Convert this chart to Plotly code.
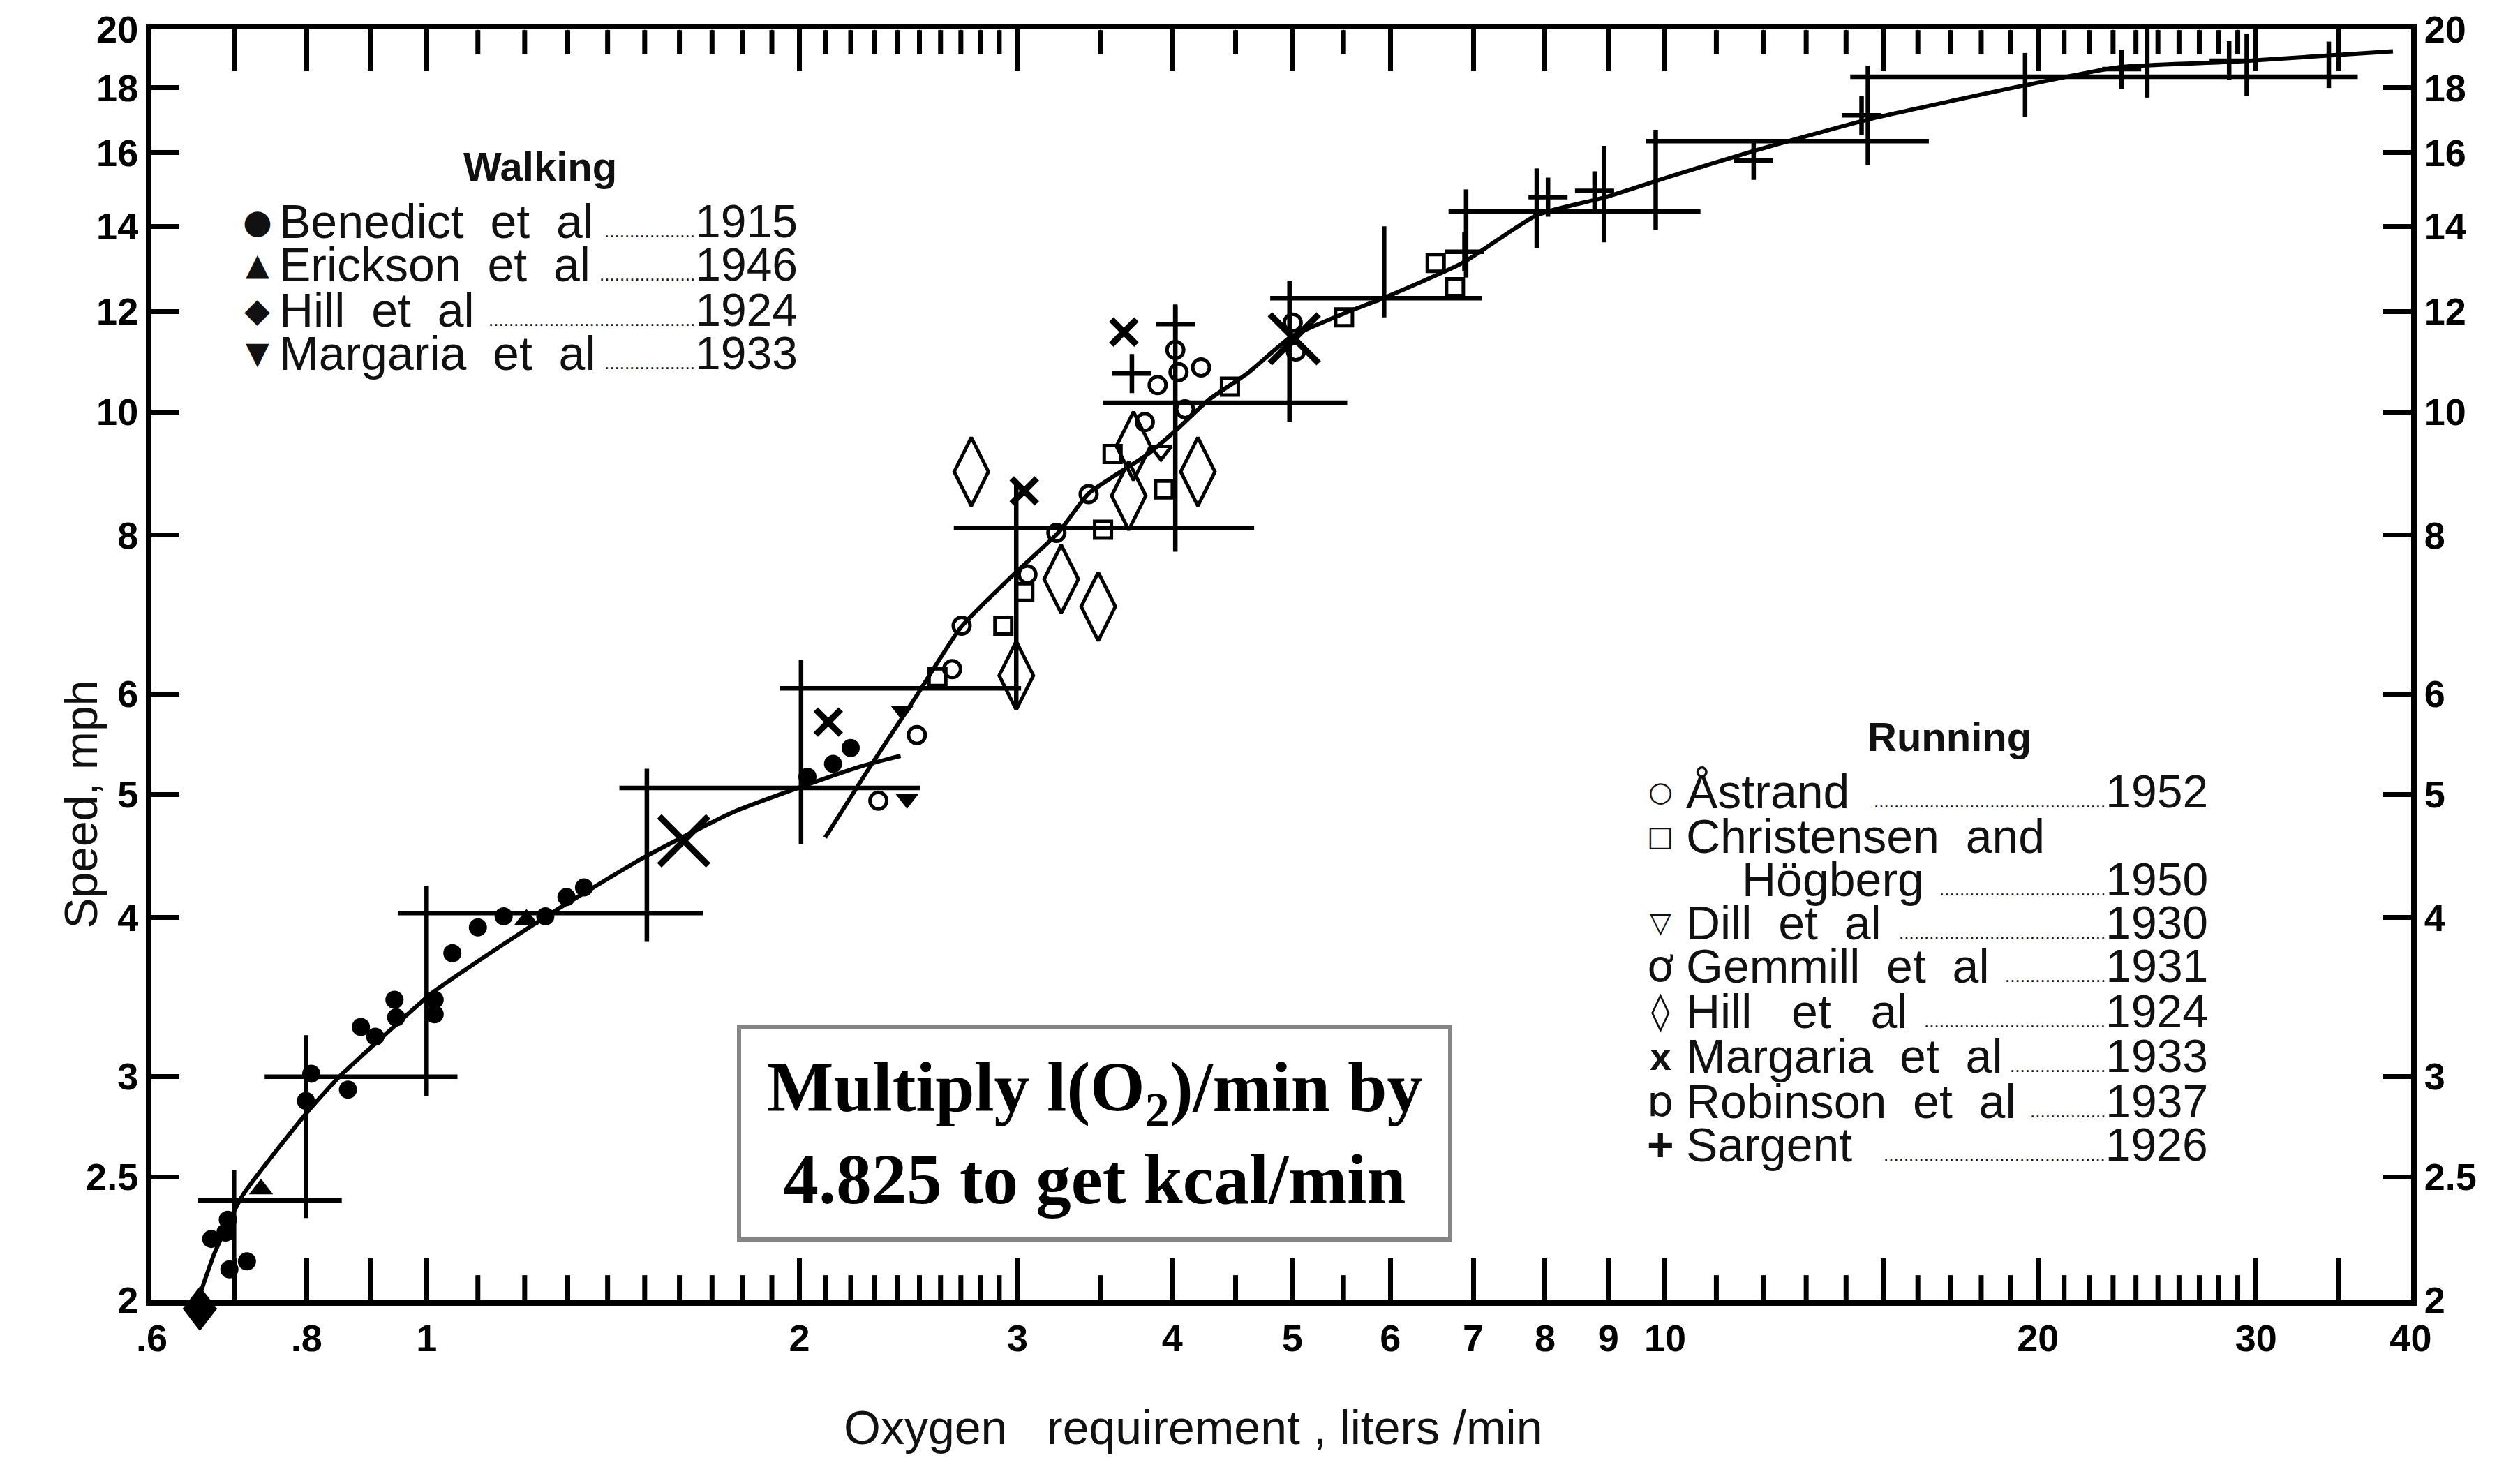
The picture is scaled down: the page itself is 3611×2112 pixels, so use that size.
import numpy as np
import plotly.graph_objects as go

# ---------------- data ----------------
walk_curve_x = [0.652, 0.674, 0.710, 0.801, 0.850, 0.928, 1.009, 1.107, 1.264, 1.501, 1.769, 2.012, 2.254, 2.414]
walk_curve_y = [1.983, 2.176, 2.416, 2.811, 2.997, 3.242, 3.486, 3.711, 4.038, 4.465, 4.843, 5.074, 5.269, 5.362]

run_curve_x = [2.098, 2.275, 2.480, 2.702, 2.984, 3.235, 3.424, 3.824, 4.035, 4.284, 4.597, 4.989,
               5.532, 5.896, 6.860, 7.877, 8.949, 10.19, 11.74, 14.58, 19.53, 23.23, 28.88, 38.70]
run_curve_y = [4.624, 5.238, 5.955, 6.774, 7.462, 8.032, 8.627, 9.266, 9.689, 10.23, 10.72, 11.46,
               11.98, 12.27, 13.10, 14.29, 14.76, 15.37, 16.03, 16.99, 18.08, 18.68, 18.87, 19.23]

# Walking
benedict_x = [0.670, 0.688, 0.691, 0.716, 0.693, 0.807, 0.799, 0.864, 0.885, 0.909, 0.942, 0.945,
              1.015, 1.015, 1.049, 1.100, 1.154, 1.247, 1.297, 1.340, 2.030, 2.129, 2.200]
benedict_y = [2.234, 2.260, 2.313, 2.145, 2.114, 3.014, 2.869, 2.928, 3.280, 3.223, 3.446, 3.338,
              3.446, 3.357, 3.750, 3.929, 4.009, 4.009, 4.151, 4.224, 5.163, 5.284, 5.439]
erickson_x = [0.735, 1.204]
erickson_y = [2.445, 3.986]
hill_walk_x = [0.656]
hill_walk_y = [1.966]
margaria_walk_x = [2.421, 2.443]
margaria_walk_y = [5.817, 4.957]

# Running
astrand_x = [2.488, 2.657, 2.704, 3.056, 3.225, 3.424, 3.801, 3.893, 4.023, 4.047, 4.096, 4.220, 5.004, 5.034]
astrand_y = [5.567, 6.275, 6.788, 7.451, 8.032, 8.617, 9.820, 10.50, 11.19, 10.75, 10.05, 10.84, 11.76, 11.16]
christensen_x = [2.922, 3.038, 3.517, 3.939, 4.453, 5.505, 6.528, 6.766]
christensen_y = [6.788, 7.215, 8.079, 8.692, 10.47, 11.87, 13.10, 12.54]
dill_x = [3.917]
dill_y = [9.320]
gemmill_x = [2.316]
gemmill_y = [4.943]
hill_run_x = [2.753, 3.254, 3.486, 2.993, 3.689, 3.722, 4.195]
hill_run_y = [8.974, 7.386, 7.029, 6.202, 8.592, 9.401, 8.974]
margaria_run_x = [2.110, 3.038, 3.656, 1.613, 5.019]
margaria_run_y = [5.700, 8.667, 11.56, 4.597, 11.42]
margaria_run_big = [False, False, False, True, True]
robinson_x = [3.580, 2.585]
robinson_y = [9.266, 6.184]
sargent_x = [3.711, 4.023, 6.887, 8.044, 8.771, 11.79, 14.41, 23.37, 28.54]
sargent_y = [10.72, 11.73, 13.37, 14.76, 14.93, 15.78, 17.12, 18.62, 18.90]

# Sargent ranges (crosses)
range_x = [0.699, 0.799, 1.000, 1.506, 2.006, 2.993, 4.023, 4.974, 5.931, 6.908, 7.877, 8.930, 9.827, 14.58, 19.53, 24.51, 29.49, 34.35]
range_y = [2.395, 2.395, 2.997, 4.032, 5.059, 6.060, 8.103, 10.17, 12.29, 14.38, 14.38, 14.38, 16.34, 16.34, 18.36, 18.36, 18.36, 18.36]
range_x_lo = [0.699, 0.654, 0.740, 0.948, 1.431, 1.929, 2.665, 3.517, 4.799, 6.686, 7.877, 8.930, 9.652, 14.58, 14.11, 24.51, 29.49, 34.35]
range_x_hi = [0.699, 0.854, 1.059, 1.672, 2.503, 3.020, 4.658, 5.538, 7.118, 10.68, 7.877, 8.930, 16.33, 14.58, 36.25, 24.51, 29.49, 34.35]
range_y_lo = [2.006, 2.320, 2.894, 3.827, 4.571, 5.851, 7.762, 9.820, 11.87, 12.76, 13.45, 13.60, 13.92, 15.64, 17.07, 17.68, 17.73, 17.99]
range_y_hi = [2.532, 3.232, 4.236, 5.238, 6.385, 8.793, 12.11, 12.69, 14.00, 14.97, 15.55, 16.20, 16.68, 18.73, 19.17, 20.15, 19.86, 19.57]

# ticks
x_min, x_max = 0.6, 40
y_min, y_max = 2, 20
x_tick_vals = [0.6, 0.7, 0.8, 0.9, 1, 2, 3, 4, 5, 6, 7, 8, 9, 10, 15, 20, 30, 35, 40]
x_tick_text = [".6", "", ".8", "", "1", "2", "3", "4", "5", "6", "7", "8", "9", "10", "", "20", "30", "", "40"]
x_minor_vals = [1.1, 1.2, 1.3, 1.4, 1.5, 1.6, 1.7, 1.8, 1.9,
                2.1, 2.2, 2.3, 2.4, 2.5, 2.6, 2.7, 2.8, 2.9, 3.5, 4.5, 5.5,
                11, 12, 13, 14, 16, 17, 18, 19, 21, 22, 23, 24, 25, 26, 27, 28, 29]
y_tick_vals = [2, 2.5, 3, 4, 5, 6, 8, 10, 12, 14, 16, 18, 20]
y_tick_text = ["2", "2.5", "3", "4", "5", "6", "8", "10", "12", "14", "16", "18", "20"]

# legend texts
walk_title = "Walking"
walk_syms = ["●", "▲", "◆", "▼"]
walk_names = ["Benedict\u00a0\u00a0et\u00a0\u00a0al", "Erickson\u00a0\u00a0et\u00a0\u00a0al",
              "Hill\u00a0\u00a0et\u00a0\u00a0al", "Margaria\u00a0\u00a0et\u00a0\u00a0al"]
walk_years = ["1915", "1946", "1924", "1933"]
walk_dots = [18, 19, 41, 18]

run_title = "Running"
run_syms = ["○", "□", "", "▽", "ơ", "◊", "x", "ɒ", "+"]
run_names = ["Åstrand", "Christensen\u00a0\u00a0and", "Högberg", "Dill\u00a0\u00a0et\u00a0\u00a0al",
             "Gemmill\u00a0\u00a0et\u00a0\u00a0al", "Hill\u00a0\u00a0\u00a0et\u00a0\u00a0\u00a0al",
             "Margaria\u00a0\u00a0et\u00a0\u00a0al", "Robinson\u00a0\u00a0et\u00a0\u00a0al", "Sargent"]
run_years = ["1952", "", "1950", "1930", "1931", "1924", "1933", "1937", "1926"]
run_dots = [46, 0, 33, 41, 20, 36, 19, 15, 44]

x_title = "Oxygen\u00a0\u00a0\u00a0requirement\u00a0,\u00a0liters\u00a0/min"
y_title = "Speed,\u00a0mph"
box_text = "Multiply l(O<sub>2</sub>)/min by<br>4.825 to get kcal/min"

# ---------------- figure ----------------
SANS = "Liberation Sans, Arial, sans-serif"
SYM = "DejaVu Sans, sans-serif"
SERIF = "Liberation Serif, Times New Roman, serif"
K = "black"

PLOT_H = 2112 - 40 - 249          # plot-area height in px
xr = [np.log10(x_min * 0.9992), np.log10(x_max * 1.0008)]
yr = [np.log10(y_min * 0.9995), np.log10(y_max * 1.0005)]

fig = go.Figure()

# short (minor) tick marks on the bottom and top frame, drawn as error bars
minor_len_dec = 34.0 / PLOT_H * (yr[1] - yr[0])
f = 10 ** minor_len_dec
n_min = len(x_minor_vals)
fig.add_trace(go.Scatter(
    x=x_minor_vals + x_minor_vals, y=[y_min * 1.002] * n_min + [y_max * 0.998] * n_min,
    mode="markers", hoverinfo="skip", marker=dict(size=3, color=K),
    error_y=dict(type="data", symmetric=False,
                 array=[y_min * (f - 1)] * n_min + [0.02] * n_min,
                 arrayminus=[0.004] * n_min + [y_max * (1 - 1 / f)] * n_min,
                 thickness=7, width=0, color=K)))

fig.add_trace(go.Scatter(x=walk_curve_x, y=walk_curve_y, mode="lines",
                         line=dict(color=K, width=6, shape="spline", smoothing=0.5)))
fig.add_trace(go.Scatter(x=run_curve_x, y=run_curve_y, mode="lines",
                         line=dict(color=K, width=6, shape="spline", smoothing=0.5)))

ex_plus = [h - c for h, c in zip(range_x_hi, range_x)]
ex_minus = [c - l for l, c in zip(range_x_lo, range_x)]
ey_plus = [h - c for h, c in zip(range_y_hi, range_y)]
ey_minus = [c - l for l, c in zip(range_y_lo, range_y)]
fig.add_trace(go.Scatter(x=range_x, y=range_y, mode="markers",
                         marker=dict(size=2, color=K),
                         error_x=dict(type="data", symmetric=False, array=ex_plus, arrayminus=ex_minus,
                                      thickness=6.5, width=0, color=K),
                         error_y=dict(type="data", symmetric=False, array=ey_plus, arrayminus=ey_minus,
                                      thickness=6.5, width=0, color=K)))

def mk(x, y, symbol, size, lw=0, yaxis="y"):
    return go.Scatter(x=x, y=y, mode="markers", yaxis=yaxis,
                      marker=dict(symbol=symbol, size=size, color=K, opacity=1,
                                  line=dict(color=K, width=lw)))

fig.add_trace(mk(benedict_x, benedict_y, "circle", 26))
fig.add_trace(mk(erickson_x, erickson_y, "triangle-up", 30))
fig.add_trace(mk(margaria_walk_x, margaria_walk_y, "triangle-down", 28))
fig.add_trace(mk(astrand_x, astrand_y, "circle-open", 24, 5))
fig.add_trace(mk(christensen_x, christensen_y, "square-open", 24, 5))
fig.add_trace(mk(dill_x, dill_y, "triangle-down-open", 26, 5))
fig.add_trace(mk(gemmill_x, gemmill_y, "circle-open", 24, 5))
fig.add_trace(mk(robinson_x, robinson_y, "square-open", 24, 5))
fig.add_trace(mk(hill_run_x, hill_run_y, "diamond-tall-open", 70, 5))
fig.add_trace(mk(margaria_run_x, margaria_run_y, "x-thin",
                 [70 if b else 36 for b in margaria_run_big], 9))
fig.add_trace(mk(sargent_x, sargent_y, "cross-thin-open", 40, 6.5, yaxis="y2"))

tickfont = dict(family=SANS, size=54, color=K, weight="bold")

fig.update_layout(
    width=3611, height=2112,
    margin=dict(l=217, r=156, t=40, b=249),
    paper_bgcolor="white", plot_bgcolor="white",
    showlegend=False,
    xaxis=dict(type="log", range=xr, tickmode="array", tickvals=x_tick_vals, ticktext=x_tick_text,
               ticks="inside", ticklen=60, tickwidth=7, tickcolor=K,
               showline=True, linewidth=8, linecolor=K, mirror="ticks",
               showgrid=False, zeroline=False, tickfont=tickfont),
    yaxis=dict(type="log", range=yr, tickmode="array", tickvals=y_tick_vals, ticktext=y_tick_text,
               ticks="inside", ticklen=40, tickwidth=7, tickcolor=K,
               showline=True, linewidth=8, linecolor=K,
               showgrid=False, zeroline=False, tickfont=tickfont),
    yaxis2=dict(type="log", range=yr, tickmode="array", tickvals=y_tick_vals, ticktext=y_tick_text,
                overlaying="y", side="right", anchor="x",
                ticks="inside", ticklen=40, tickwidth=7, tickcolor=K,
                showline=True, linewidth=8, linecolor=K,
                showgrid=False, zeroline=False, tickfont=tickfont),
)

anns = []
def ann(text, x, y, size, family=SANS, xanchor="left", **kw):
    d = dict(text=text, x=x, y=y, xref="paper", yref="paper", xanchor=xanchor, yanchor="middle",
             showarrow=False, font=dict(family=family, size=size, color=kw.pop("color", "#111"),
                                        weight=kw.pop("weight", "normal")))
    d.update(kw)
    anns.append(d)

def dots(n):
    return "<span style='font-size:26px'>" + "." * n + "</span>" if n else ""

# Hill (walking) point lies just below the frame: drawn as a glyph at its data position
for hx, hy in zip(hill_walk_x, hill_walk_y):
    anns.append(dict(text="♦", x=np.log10(hx), xref="x",
                     y=(np.log10(hy) - yr[0]) / (yr[1] - yr[0]), yref="y domain",
                     xanchor="center", yanchor="middle", showarrow=False,
                     font=dict(family=SYM, size=88, color=K)))

# Walking legend
ann(walk_title, 0.172, 0.892, 58, xanchor="center", weight="bold")
walk_rows = [0.849, 0.815, 0.7795, 0.7454]
walk_sym_sizes = [48, 44, 48, 44]
for s, ss, nm, yy, nd, py in zip(walk_syms, walk_sym_sizes, walk_names, walk_years, walk_dots, walk_rows):
    ann(s, 0.0468, py, ss, family=SYM, xanchor="center")
    ann(nm, 0.0560, py, 68)
    ann(dots(nd) + yy, 0.2865, py, 66, xanchor="right")

# Running legend
ann(run_title, 0.7957, 0.4435, 58, xanchor="center", weight="bold")
run_rows = [0.4005, 0.3651, 0.3310, 0.2969, 0.2628, 0.2274, 0.1920, 0.1567, 0.1226]
run_sym_sizes = [40, 40, 0, 40, 62, 54, 56, 60, 66]
run_sym_fonts = [SYM, SYM, SYM, SYM, SYM, SYM, SANS, SYM, SANS]
for i, (s, ss, sf, nm, yy, nd, py) in enumerate(zip(run_syms, run_sym_sizes, run_sym_fonts, run_names,
                                                     run_years, run_dots, run_rows)):
    if s:
        ann(s, 0.6677, py, ss, family=sf, xanchor="center", weight="bold" if sf == SANS else "normal")
    ann(nm, 0.7033 if i == 2 else 0.6784, py, 68)
    if yy:
        ann(dots(nd) + yy, 0.9109, py, 66, xanchor="right")

# axis titles
ann(x_title, 0.4609, -0.0998, 68, xanchor="center", color="#111")
ann(y_title, -0.0313, 0.390, 66, xanchor="center", textangle=-90, color="#111")

# note box
anns.append(dict(text=box_text, x=0.4175, y=0.1314, xref="paper", yref="paper",
                 xanchor="center", yanchor="middle", showarrow=False,
                 width=1005, height=290, align="center", valign="middle",
                 font=dict(family=SERIF, size=101, color="black", weight="bold"),
                 bordercolor="#858585", borderwidth=6, borderpad=4, bgcolor="white"))

fig.update_layout(annotations=anns)
fig.write_html("out.html")
